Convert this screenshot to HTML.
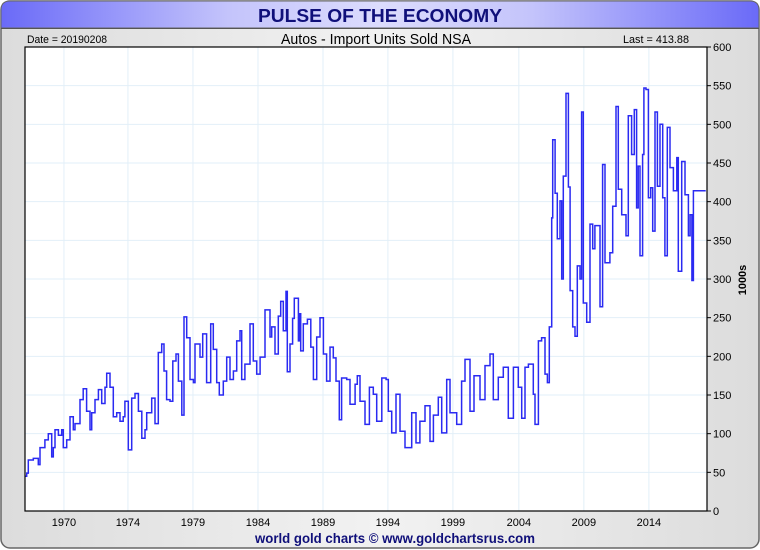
<!DOCTYPE html>
<html><head><meta charset="utf-8"><style>
html,body{margin:0;padding:0;background:#fff;}
svg{display:block;font-family:"Liberation Sans",sans-serif;}
</style></head><body>
<svg id="chart" width="760" height="550" viewBox="0 0 760 550" xmlns="http://www.w3.org/2000/svg">
<defs>
<linearGradient id="hdr" x1="0" x2="1" y1="0" y2="0">
<stop offset="0" stop-color="#6a6af8"/><stop offset="0.3" stop-color="#c4c4fb"/><stop offset="0.5" stop-color="#dcdcfd"/><stop offset="0.7" stop-color="#c4c4fb"/><stop offset="1" stop-color="#6a6af8"/>
</linearGradient>
<linearGradient id="bg" x1="0" x2="1" y1="0" y2="0">
<stop offset="0" stop-color="#dcdcdc"/><stop offset="0.5" stop-color="#f2f2f2"/><stop offset="1" stop-color="#dcdcdc"/>
</linearGradient>
</defs>
<rect x="1" y="1" width="758" height="547" rx="9" fill="url(#bg)" stroke="#666" stroke-width="1.5"/>
<path d="M1,28 L1,10 Q1,1 10,1 L750,1 Q759,1 759,10 L759,28 Z" fill="url(#hdr)" stroke="#666" stroke-width="1"/>
<line x1="1" y1="28.5" x2="759" y2="28.5" stroke="#555" stroke-width="1"/>
<text x="380" y="22" text-anchor="middle" font-weight="bold" font-size="18" textLength="244" lengthAdjust="spacingAndGlyphs" fill="#10107a">PULSE OF THE ECONOMY</text>
<text x="27" y="43" font-size="11" textLength="80" lengthAdjust="spacingAndGlyphs" fill="#000">Date = 20190208</text>
<text x="376" y="44" text-anchor="middle" font-size="15" textLength="190" lengthAdjust="spacingAndGlyphs" fill="#000">Autos - Import Units Sold NSA</text>
<text x="656" y="43" text-anchor="middle" font-size="11" textLength="66" lengthAdjust="spacingAndGlyphs" fill="#000">Last = 413.88</text>
<rect x="25" y="47" width="682" height="464" fill="#fff"/>
<g id="grid"></g>
<g id="series"></g>
<rect x="25" y="47" width="682" height="464" fill="none" stroke="#000" stroke-width="1.2"/>
<g id="axes"></g>
<text transform="translate(746,280) rotate(-90)" text-anchor="middle" font-weight="bold" font-size="11" fill="#000">1000s</text>
<text x="395" y="543" text-anchor="middle" font-weight="bold" font-size="14" textLength="280" lengthAdjust="spacingAndGlyphs" fill="#10107a">world gold charts © www.goldchartsrus.com</text>
</svg>
<script>
const years = [1966.1,1966.23,1966.35,1966.74,1967.12,1967.25,1967.63,1967.89,1968.15,1968.27,1968.40,1968.66,1968.92,1969.04,1969.30,1969.55,1969.81,1969.94,1970.32,1970.57,1970.83,1971.09,1971.22,1971.47,1971.73,1971.99,1972.24,1972.37,1972.62,1972.88,1973.14,1973.39,1973.64,1973.77,1974.03,1974.29,1974.54,1974.80,1975.06,1975.31,1975.44,1975.82,1976.08,1976.33,1976.59,1976.77,1976.97,1977.23,1977.44,1977.69,1977.87,1978.13,1978.30,1978.51,1978.76,1979.02,1979.15,1979.53,1979.74,1980.04,1980.35,1980.55,1980.81,1981.01,1981.32,1981.58,1981.83,1982.09,1982.35,1982.60,1982.73,1982.98,1983.37,1983.62,1983.88,1984.14,1984.52,1984.90,1985.03,1985.29,1985.54,1985.72,1985.92,1986.13,1986.23,1986.44,1986.64,1986.77,1987.08,1987.15,1987.26,1987.46,1987.77,1988.03,1988.23,1988.49,1988.74,1989.00,1989.25,1989.51,1989.76,1989.97,1990.22,1990.40,1990.79,1991.04,1991.43,1991.60,1991.81,1992.19,1992.53,1992.83,1993.09,1993.48,1993.81,1993.98,1994.24,1994.57,1994.88,1995.26,1995.78,1996.11,1996.41,1996.80,1997.18,1997.44,1997.82,1998.08,1998.46,1998.72,1999.23,1999.61,1999.87,2000.25,2000.56,2001.02,2001.40,2001.79,2002.04,2002.42,2002.81,2003.19,2003.58,2003.96,2004.22,2004.47,2004.73,2005.11,2005.24,2005.50,2005.75,2006.01,2006.19,2006.34,2006.52,2006.60,2006.78,2006.95,2007.16,2007.29,2007.41,2007.62,2007.80,2007.93,2008.13,2008.31,2008.49,2008.69,2008.82,2008.95,2009.21,2009.46,2009.67,2009.84,2010.23,2010.43,2010.61,2010.99,2011.20,2011.46,2011.63,2011.89,2012.22,2012.40,2012.65,2012.86,2013.04,2013.16,2013.30,2013.50,2013.60,2013.76,2013.94,2014.12,2014.27,2014.45,2014.63,2014.83,2015.04,2015.21,2015.39,2015.60,2015.86,2016.12,2016.24,2016.50,2016.75,2017.01,2017.14,2017.28,2017.40,2018.29];
const values = [45,49,66,68,60,82,92,100,70,82,105,98,105,82,92,122,105,113,144,158,129,105,127,144,157,139,160,178,160,122,127,116,122,142,79,146,152,129,94,105,127,146,113,205,216,181,144,142,194,203,168,124,251,224,170,166,216,199,229,166,242,209,166,150,168,199,170,181,220,233,170,190,242,194,177,199,260,225,238,203,252,271,233,284,180,216,249,275,220,255,207,242,248,212,170,225,250,203,168,212,198,168,118,172,170,138,164,175,142,112,160,151,116,172,170,129,101,151,103,82,127,88,116,136,90,124,147,101,170,127,112,168,196,129,175,144,188,203,144,173,186,120,186,160,120,186,190,151,112,220,224,177,166,238,379,480,411,352,401,300,433,540,419,285,238,226,317,300,516,269,244,371,339,369,264,448,321,334,394,523,416,383,356,511,461,519,392,446,330,461,547,545,405,418,362,516,420,500,405,330,496,444,414,457,310,452,409,356,383,298,414,414];
const yTicks = [0,50,100,150,200,250,300,350,400,450,500,550,600];
const xTickYears = [1969.09,1974,1978.99,1983.98,1988.97,1993.95,1998.94,2004.0,2008.99,2013.98];
const xTickLabels = ["1970","1974","1979","1984","1989","1994","1999","2004","2009","2014"];

const NS = "http://www.w3.org/2000/svg";
const X0 = 25, X1 = 707, Y0 = 511, Y1 = 47;
const YR0 = 1966.1, YR1 = 2018.44, VMAX = 600;
function xs(yr){ return X0 + (yr - YR0) / (YR1 - YR0) * (X1 - X0); }
function ys(v){ return Y0 - v / VMAX * (Y0 - Y1); }
function mk(tag, attrs, parent){ const e = document.createElementNS(NS, tag); for (const k in attrs) e.setAttribute(k, attrs[k]); parent.appendChild(e); return e; }

const grid = document.getElementById('grid');
const axes = document.getElementById('axes');
yTicks.forEach(v => {
  const y = ys(v);
  const gl = mk('line', {x1: X0, x2: X1, y1: y, y2: y, stroke: '#e2eff8', 'stroke-width': 1}, grid);
  
  
  const tk = mk('line', {x1: X1, x2: X1 + 4, y1: y, y2: y, stroke: '#000', 'stroke-width': 1}, axes);
  
  
  const t = mk('text', {x: X1 + 6, y: y + 4, 'font-size': 11, fill: '#000'}, axes);
  t.textContent = v;
  
  
});
xTickYears.forEach((yr, i) => {
  const x = xs(yr);
  const gl = mk('line', {x1: x, x2: x, y1: Y1, y2: Y0, stroke: '#e2eff8', 'stroke-width': 1}, grid);
  
  
  const t = mk('text', {x: x, y: 526, 'text-anchor': 'middle', 'font-size': 11, fill: '#000'}, axes);
  t.textContent = xTickLabels[i];
  
  
});
const series = document.getElementById('series');
let d = '';
years.forEach((yr, i) => {
  const x = xs(yr).toFixed(1), y = ys(values[i]).toFixed(1);
  if (i === 0) d += 'M' + x + ',' + y;
  else d += 'H' + x + 'V' + y;
});
d += 'H' + xs(YR1 - 0.1).toFixed(1);
const line = mk('path', {d: d, fill: 'none', stroke: '#2a2af2', 'stroke-width': 1.5, 'stroke-linejoin': 'miter'}, series);


</script>
</body></html>
